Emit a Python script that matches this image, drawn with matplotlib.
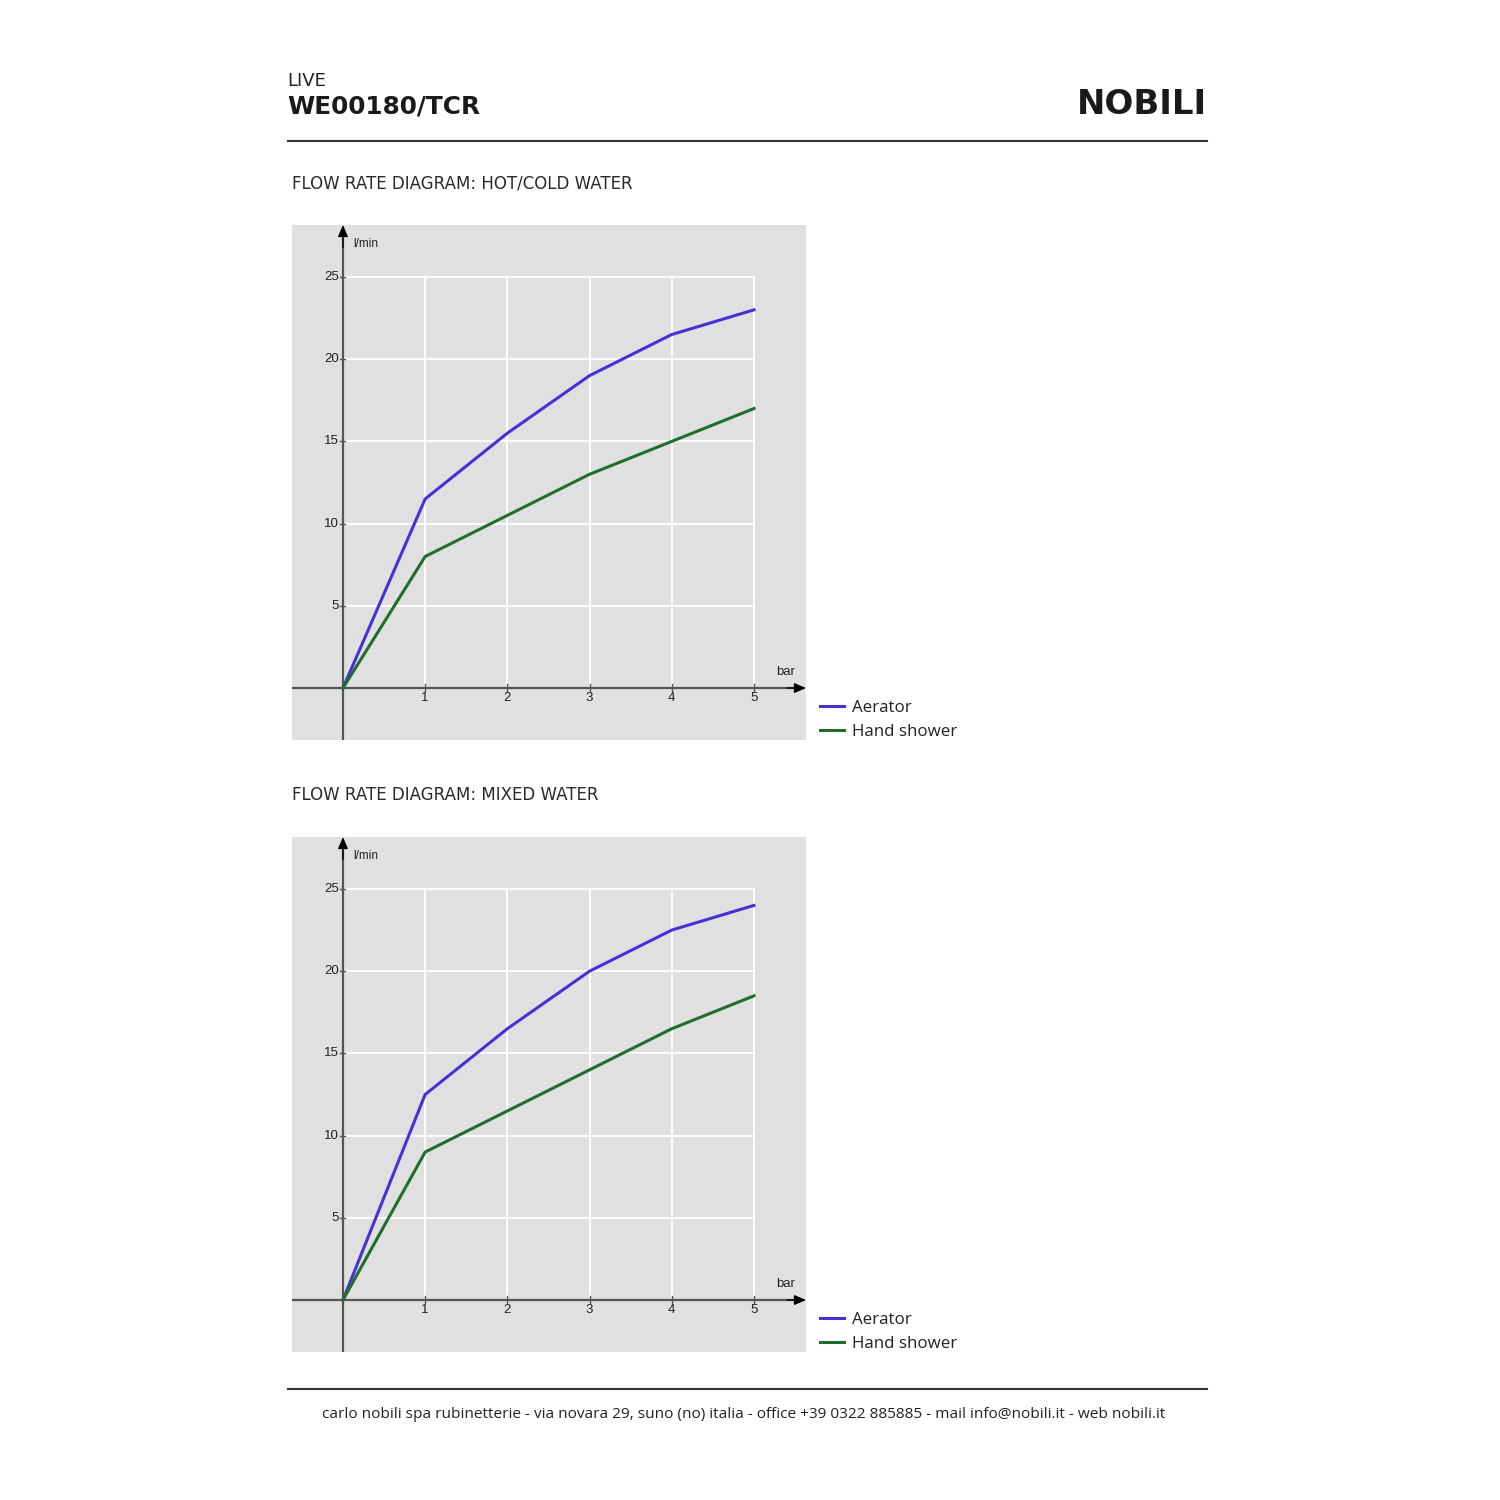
import matplotlib
matplotlib.use("Agg")
import matplotlib.pyplot as plt
from matplotlib.lines import Line2D

# ---------------- data ----------------
pressure_bar = [0, 1, 2, 3, 4, 5]
hot_cold_aerator = [0, 11.5, 15.5, 19, 21.5, 23]
hot_cold_hand_shower = [0, 8, 10.5, 13, 15, 17]
mixed_aerator = [0, 12.5, 16.5, 20, 22.5, 24]
mixed_hand_shower = [0, 9, 11.5, 14, 16.5, 18.5]
x_ticks = [1, 2, 3, 4, 5]
y_ticks = [5, 10, 15, 20, 25]
series_labels = ["Aerator", "Hand shower"]
chart_titles = ["FLOW RATE DIAGRAM: HOT/COLD WATER", "FLOW RATE DIAGRAM: MIXED WATER"]

BLUE = "#4433d4"
GREEN = "#1f6e2c"
PANEL = "#e0e0e0"
AXIS = "#555555"
PAGE_FONT = ["Open Sans", "DejaVu Sans"]
CAPS_FONT = ["DejaVu Sans"]
CHART_FONT = ["Liberation Sans", "DejaVu Sans"]

W = H = 1500
fig = plt.figure(figsize=(15, 15), dpi=100)
fig.patch.set_facecolor("white")


def fx(px):
    return px / W


def fy(py):
    return 1 - py / H


# ---------------- header ----------------
fig.text(fx(287), fy(81), "LIVE", fontsize=13, family=CAPS_FONT, weight="normal",
         color="#222222", ha="left", va="center")
fig.text(fx(287), fy(107), "WE00180/TCR", fontsize=17.8, family=CAPS_FONT, weight="bold",
         color="#1a1a1a", ha="left", va="center")
fig.text(fx(1207), fy(104), "NOBILI", fontsize=24.5, family=CAPS_FONT, weight="bold",
         color="#1a1a1a", ha="right", va="center")
fig.add_artist(Line2D([fx(288), fx(1207)], [fy(141), fy(141)], color="#333333", lw=1.5))
fig.add_artist(Line2D([fx(288), fx(1207)], [fy(1389), fy(1389)], color="#333333", lw=1.5))
fig.text(fx(744), fy(1414),
         "carlo nobili spa rubinetterie - via novara 29, suno (no) italia - office +39 0322 885885 - mail info@nobili.it - web nobili.it",
         fontsize=11.1, family=PAGE_FONT, weight="normal", color="#222222", ha="center", va="center")


def draw_chart(top_px, title_px, title, aer, hs, legend_y):
    fig.text(fx(292), fy(title_px), title, fontsize=12, family=CAPS_FONT, weight="normal",
             color="#2a2a2a", ha="left", va="center")
    left, right, bottom, top = 292, 806, top_px + 515, top_px
    ax = fig.add_axes([fx(left), fy(bottom), (right - left) / W, (bottom - top) / H])
    ax.set_facecolor(PANEL)
    ax.set_xlim(-0.62, 5.633)
    ax.set_ylim(-3.16, 28.16)
    for s in ax.spines.values():
        s.set_visible(False)
    ax.set_xticks([])
    ax.set_yticks([])

    # grid
    for xv in x_ticks:
        ax.plot([xv, xv], [0, y_ticks[-1]], color="white", lw=1.3, zorder=1)
    for yv in y_ticks:
        ax.plot([0, x_ticks[-1]], [yv, yv], color="white", lw=1.3, zorder=1)

    # axes with arrows
    ax.plot([-0.62, 5.5], [0, 0], color=AXIS, lw=1.6, zorder=3)
    ax.plot([0, 0], [-3.16, 27.3], color=AXIS, lw=1.6, zorder=3)
    ax.annotate("", xy=(5.633, 0), xytext=(5.4, 0),
                arrowprops=dict(arrowstyle="-|>,head_length=0.7,head_width=0.3",
                                color="black", lw=1.0, shrinkA=0, shrinkB=0), zorder=4)
    ax.annotate("", xy=(0, 28.16), xytext=(0, 26.8),
                arrowprops=dict(arrowstyle="-|>,head_length=0.7,head_width=0.3",
                                color="black", lw=1.0, shrinkA=0, shrinkB=0), zorder=4)

    # ticks and labels
    for xv in x_ticks:
        ax.plot([xv, xv], [-0.15, 0.25], color=AXIS, lw=1, zorder=3)
        ax.text(xv, -0.6, str(xv), fontsize=9.5, family=CHART_FONT, color="#222222",
                ha="center", va="center")
    for yv in y_ticks:
        ax.plot([-0.03, 0.03], [yv, yv], color=AXIS, lw=1, zorder=3)
        ax.text(-0.05, yv, str(yv), fontsize=9.5, family=CHART_FONT, color="#222222",
                ha="right", va="center")
    ax.text(0.12, 27.0, "l/min", fontsize=8.5, family=CHART_FONT, color="#222222",
            ha="left", va="center")
    ax.text(5.5, 1.0, "bar", fontsize=9.5, family=CHART_FONT, color="#222222",
            ha="right", va="center")

    l1, = ax.plot(pressure_bar, aer, color=BLUE, lw=2.2, zorder=4, solid_joinstyle="round")
    l2, = ax.plot(pressure_bar, hs, color=GREEN, lw=2.2, zorder=4, solid_joinstyle="round")

    leg = ax.legend([l1, l2], series_labels, loc="center left",
                    bbox_to_anchor=(fx(820), fy(legend_y)), bbox_transform=fig.transFigure,
                    frameon=False, borderpad=0, borderaxespad=0, handlelength=1.4,
                    handletextpad=0.5, labelspacing=0.5,
                    prop=dict(family=PAGE_FONT, size=12.2, weight="normal"))
    for t in leg.get_texts():
        t.set_color("#222222")
    return leg


draw_chart(225, 184, chart_titles[0], hot_cold_aerator, hot_cold_hand_shower, 720)
draw_chart(837, 795, chart_titles[1], mixed_aerator, mixed_hand_shower, 1332)

fig.savefig("out.png", dpi=100, facecolor="white")
